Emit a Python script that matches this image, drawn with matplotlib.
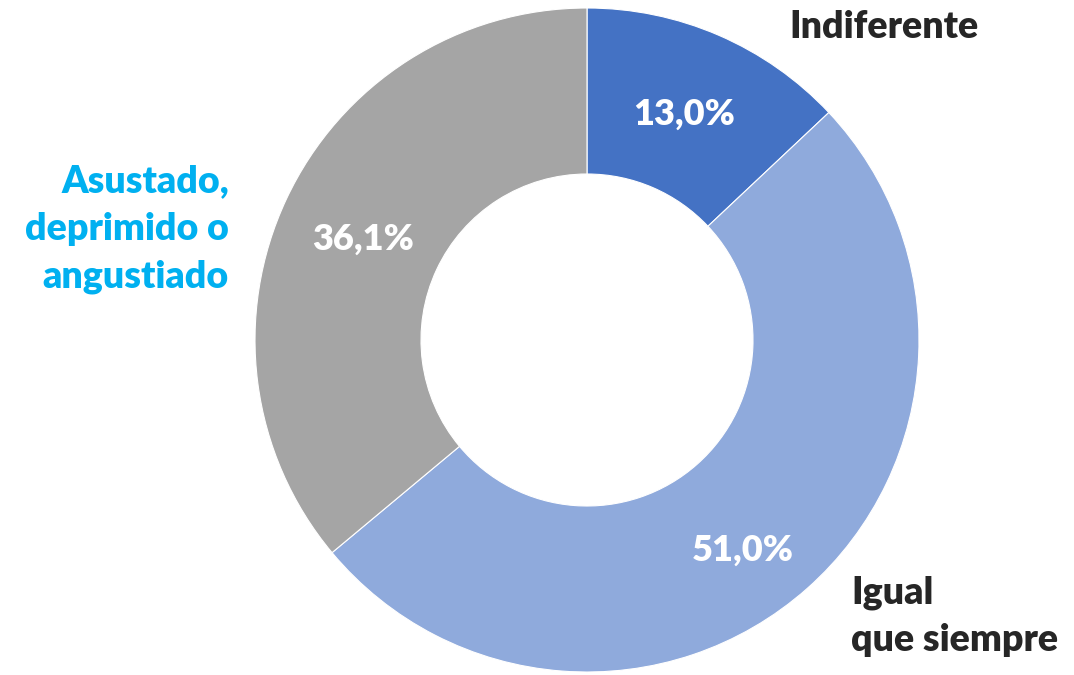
import matplotlib
matplotlib.use('Agg')
import matplotlib.pyplot as plt
import numpy as np

categories = ['Indiferente', 'Igual\nque siempre', 'Asustado,\ndeprimido o\nangustiado']
values = [13.0, 51.0, 36.1]
slice_colors = ['#4472C4', '#8FAADC', '#A5A5A5']
label_colors = ['#262626', '#262626', '#00B0F0']

plt.rcParams['font.family'] = ['Lato', 'DejaVu Sans']

fig = plt.figure(figsize=(10.74, 6.75), dpi=100)
ax = fig.add_axes([0, 0, 1, 1])

center = (587, 335)
radius = 332
wedges, _ = ax.pie(
    values,
    colors=slice_colors,
    startangle=90,
    counterclock=False,
    center=center,
    radius=radius,
    wedgeprops=dict(width=radius / 2, edgecolor='white', linewidth=0.8),
    frame=True,
)
ax.set_xlim(0, 1074)
ax.set_ylim(0, 675)
ax.set_aspect('equal')
ax.axis('off')

# percentage labels in the ring (small nudges as in the original)
pct_radius = [0.74, 0.79, 0.74]
pct_nudge = [0, -5, 1]
for w, v, rf, dn in zip(wedges, values, pct_radius, pct_nudge):
    mid = np.deg2rad((w.theta1 + w.theta2) / 2 + dn)
    r = radius * rf
    ax.text(center[0] + r * np.cos(mid), center[1] + r * np.sin(mid),
            f'{v:.1f}'.replace('.', ',') + '%',
            ha='center', va='center', color='white',
            fontsize=26, fontweight='heavy')

# category labels outside
ax.text(884, 675 - 27, categories[0], ha='center', va='center',
        color=label_colors[0], fontsize=27, fontweight='heavy')
ax.text(851, 675 - 616, categories[1], ha='left', va='center',
        color=label_colors[1], fontsize=27, fontweight='heavy',
        linespacing=1.48)
ax.text(229, 675 - 229, categories[2], ha='right', va='center',
        color=label_colors[2], fontsize=27, fontweight='heavy',
        multialignment='right', linespacing=1.48)

fig.savefig('out.png', dpi=100)
